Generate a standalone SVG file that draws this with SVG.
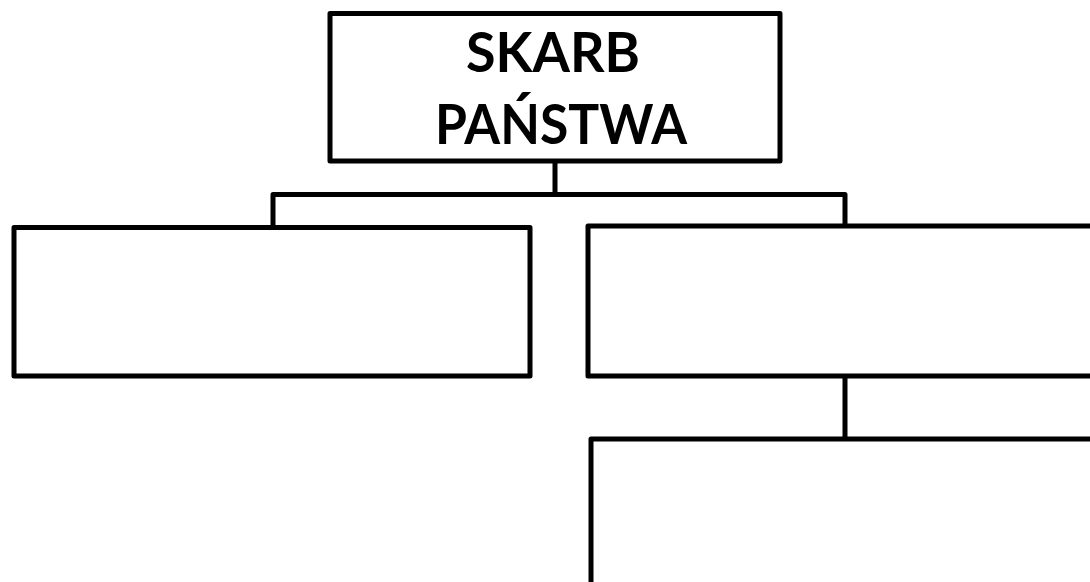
<svg xmlns="http://www.w3.org/2000/svg" width="1090" height="582" viewBox="0 0 1090 582">
<style>
.box{fill:#fff;stroke:#000;stroke-width:5;stroke-linejoin:round}
.conn{fill:none;stroke:#000;stroke-width:5;stroke-linejoin:round}
.t{font-family:Lato,"Open Sans","Liberation Sans",sans-serif;font-weight:700;font-size:55px;fill:#000;text-anchor:middle}
</style>
<rect width="1090" height="582" fill="#fff"/>
<g id="connectors">
<path class="conn" d="M555 161 V194.5 M273 227 V194.5 H845 V227"/>
<path class="conn" d="M845 376 V439"/>
</g>
<g id="skarb">
<rect class="box" x="330" y="13.5" width="450" height="147.5"/>
<text class="t" x="553" y="72" textLength="174" lengthAdjust="spacingAndGlyphs">SKARB</text>
<text class="t" x="561" y="144" textLength="252" lengthAdjust="spacingAndGlyphs">PAŃSTWA</text>
</g>
<g id="left"><rect class="box" x="14" y="227.5" width="516" height="148.5"/></g>
<g id="right"><rect class="box" x="588" y="226" width="530" height="150"/></g>
<g id="bottom"><rect class="box" x="591" y="439" width="530" height="170"/></g>
</svg>
